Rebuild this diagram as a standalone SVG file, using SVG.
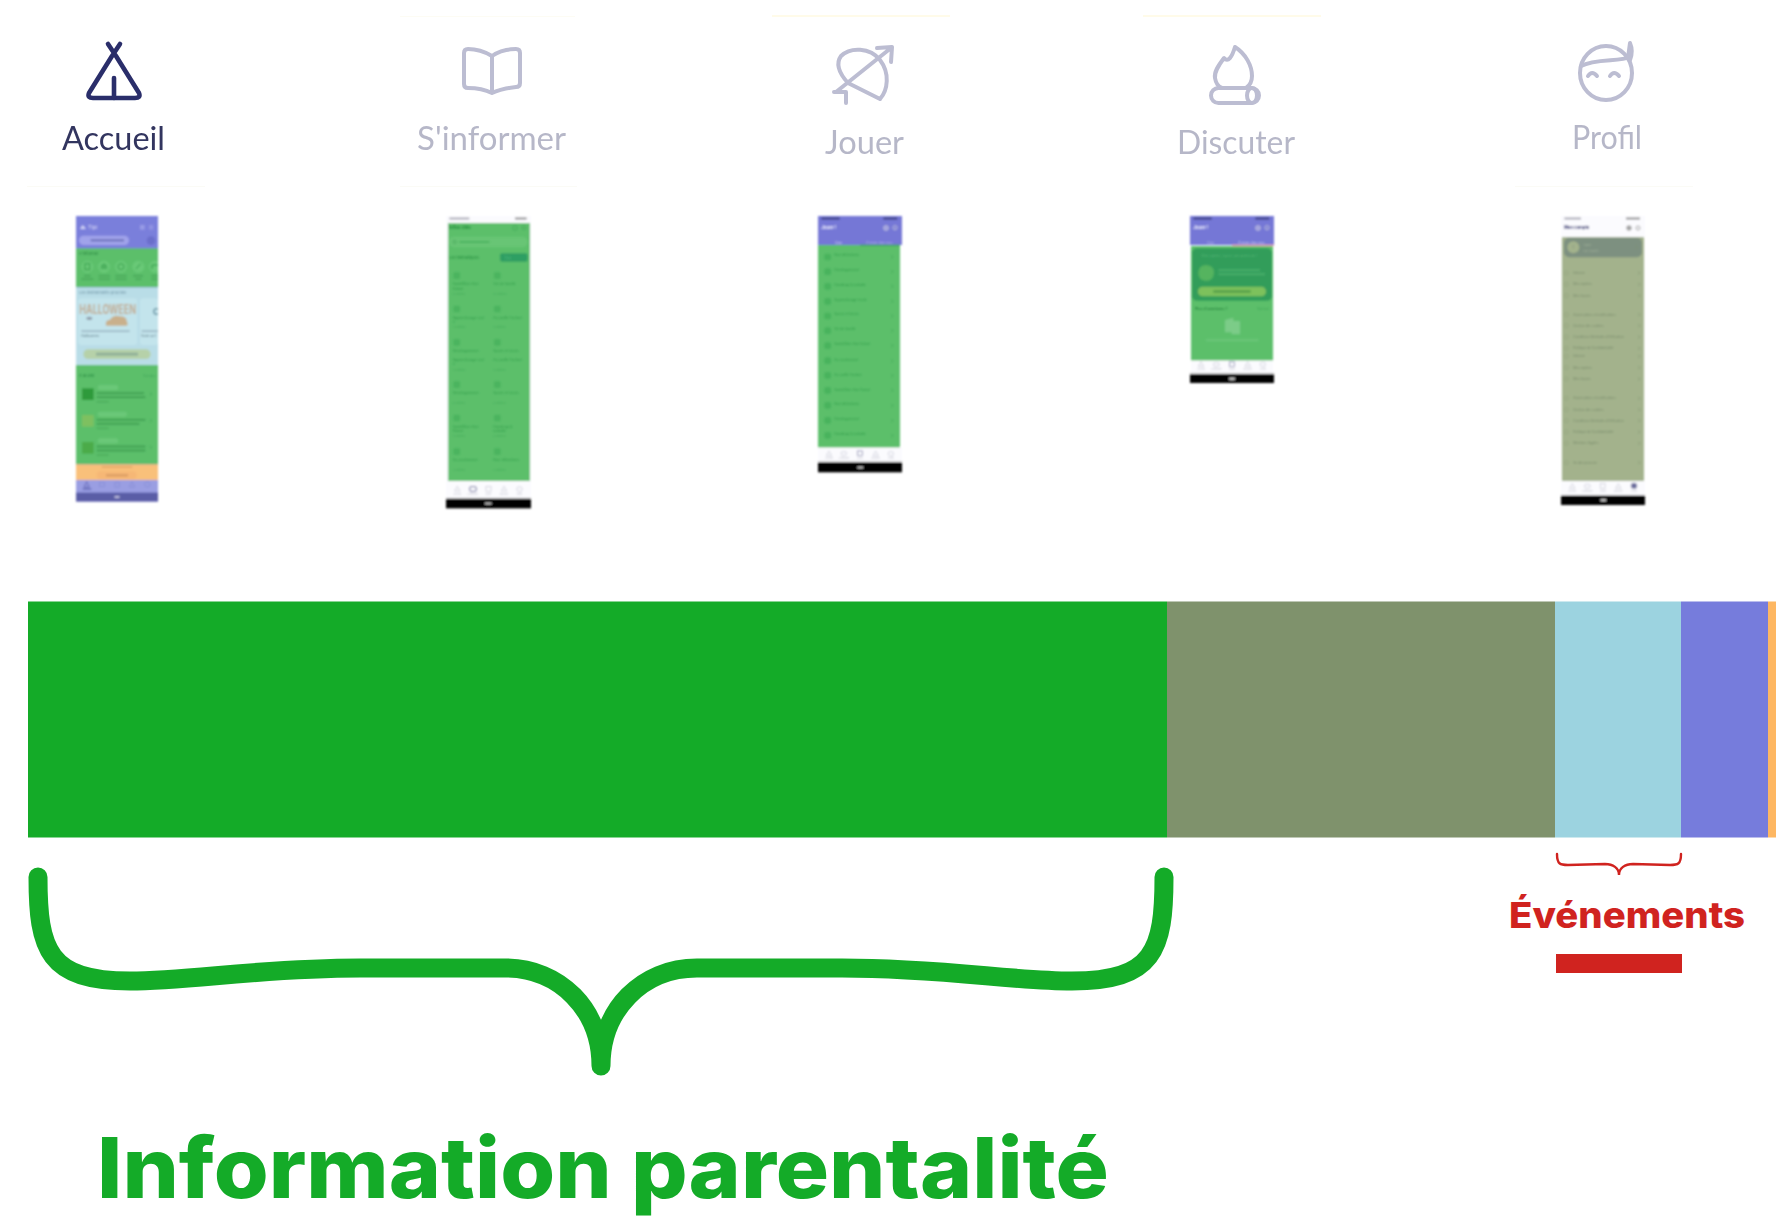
<svg xmlns="http://www.w3.org/2000/svg" xmlns:xlink="http://www.w3.org/1999/xlink" width="1776" height="1216" viewBox="0 0 1776 1216">
<defs>
<style>
text{font-family:"Inter","Liberation Sans",sans-serif}
.tab{font-family:"Lato","Liberation Sans",sans-serif;font-size:33px;font-weight:400}
.ic{fill:none;stroke:#bcbdd2;stroke-width:4;stroke-linecap:round;stroke-linejoin:round}
.lab{fill:#b6b7c8}
.t2{font-size:10.5px;fill:#2e9a48}
.s2{font-size:7px;fill:#45a858}
.t3{font-size:10px;fill:#2e9a48}
.t5{font-size:9.5px;fill:#76886a}
.nav{fill:none;stroke:#c4c5d2;stroke-width:2}
.navt{font-size:6.5px;fill:#b9bac8;text-anchor:middle}
.chev{fill:none;stroke:#3e9d50;stroke-width:2}
.chev5{fill:none;stroke:#7e8f70;stroke-width:2}
.bar{fill:#3d9c50}
</style>
<filter id="soft" x="-5%" y="-5%" width="110%" height="110%"><feGaussianBlur stdDeviation="2.800"/></filter>
<filter id="tabsoft" x="-10%" y="-10%" width="120%" height="120%"><feGaussianBlur stdDeviation=".55"/></filter>
<clipPath id="clip1"><rect x="48" y="33" width="246" height="857"/></clipPath>
<path id="chv" d="M0 -5 L5 0 L0 5"/>
</defs>
<rect width="1776" height="1216" fill="#ffffff"/>

<g id="faint-lines" fill="#fffbe9">
<rect x="772" y="15" width="178" height="2"/><rect x="1143" y="15" width="178" height="2"/>
<rect x="400" y="16" width="175" height="1" fill="#fdfcf4"/><rect x="27" y="186" width="178" height="1" fill="#fbfbf6"/><rect x="400" y="186" width="177" height="1" fill="#fbfbf6"/><rect x="1515" y="186" width="178" height="1" fill="#fbfbf6"/>
</g>

<g id="tab-accueil" filter="url(#tabsoft)">
<path d="M108 44 L116 56 L139 93 Q141 98 135 98 L93 98 Q87 98 89 93 L112 56 L120 44" fill="none" stroke="#2b2d6b" stroke-width="4.600" stroke-linecap="round" stroke-linejoin="round"/>
<path d="M114 78 V98" fill="none" stroke="#2b2d6b" stroke-width="4.600" stroke-linecap="round"/>
<text class="tab" x="62" y="150" fill="#33355f" textLength="103" lengthAdjust="spacingAndGlyphs">Accueil</text>
</g>
<g id="tab-sinformer" filter="url(#tabsoft)">
<path class="ic" d="M492 56 C482 50 474 49 468 49 Q464 49 464 53 V84 Q464 88 468 88 C476 88 484 89 492 93 C500 89 508 88 516 87 Q520 87 520 83 V53 Q520 49 516 49 C508 49 500 50 492 56 V93"/>
<text class="tab lab" x="417" y="150" textLength="149" lengthAdjust="spacingAndGlyphs">S'informer</text>
</g>
<g id="tab-jouer" filter="url(#tabsoft)">
<path class="ic" d="M841 56 C850 47 870 47 880 60 C890 73 888 90 880 99 M841 56 C836 63 838 72 848 83 L880 99 M836 92 L891 48 M877 48 L892 47 L891 62 M834 92 H846 V103"/>
<text class="tab lab" x="825" y="154" textLength="79" lengthAdjust="spacingAndGlyphs">Jouer</text>
</g>
<g id="tab-discuter" filter="url(#tabsoft)">
<path class="ic" d="M1235 47 C1232 57 1228 63 1224 58 C1218 66 1214 72 1215 78 C1216 84 1219 87 1222 88 M1235 47 C1246 54 1252 66 1252 76 C1252 82 1249 86 1246 88"/>
<rect class="ic" x="1211" y="88" width="48" height="15" rx="7.500"/><ellipse class="ic" cx="1252" cy="95.500" rx="5" ry="7.500"/>
<text class="tab lab" x="1177" y="154" textLength="118" lengthAdjust="spacingAndGlyphs">Discuter</text>
</g>
<g id="tab-profil" filter="url(#tabsoft)">
<ellipse class="ic" cx="1606" cy="73" rx="26" ry="27"/>
<path class="ic" d="M1581 66 C1595 58 1620 62 1630 57 M1628 58 L1630 43 C1633 50 1632 55 1630 60 M1588 76 Q1592 70 1597 76 M1610 76 Q1614 70 1619 76"/>
<text class="tab lab" x="1572" y="149" textLength="70" lengthAdjust="spacingAndGlyphs">Profil</text>
</g>

<g id="phone-accueil" transform="translate(60 205) scale(.33333)" filter="url(#soft)"><g clip-path="url(#clip1)">
<rect x="48" y="33" width="246" height="857" fill="#7a7fdb"/>
<rect x="48" y="130" width="246" height="117" fill="#5cbf6a"/>
<rect x="48" y="247" width="246" height="233" fill="#b9dde7"/>
<rect x="48" y="480" width="246" height="298" fill="#5cbf6a"/>
<rect x="48" y="778" width="246" height="47" fill="#f9c07a"/>
<rect x="48" y="825" width="246" height="38" fill="#9a9ee2"/>
<rect x="48" y="863" width="246" height="27" fill="#5a5da6"/>
<text x="85" y="72" font-size="15" fill="#dfe0fa">Tipi</text>
<path d="M60 72 L68 60 L78 72Z" fill="#cfd1f5"/>
<rect x="57" y="92" width="150" height="28" rx="14" fill="#a0a3ea"/><rect x="92" y="103" width="100" height="6" fill="#6b6eb8"/>
<circle cx="273" cy="107" r="13" fill="#6a6ecb"/><rect x="240" y="60" width="14" height="14" fill="#989be6"/><rect x="267" y="60" width="13" height="14" fill="#8f92e2"/>
<text x="57" y="151" font-size="12" fill="#237f3c">S'informer</text>
<g fill="#69c977"><circle cx="82" cy="185" r="18"/><circle cx="132" cy="185" r="18"/><circle cx="183" cy="185" r="18"/><circle cx="235" cy="185" r="18"/><circle cx="285" cy="185" r="18"/></g>
<g fill="none" stroke="#27933e" stroke-width="2.500"><rect x="75" y="176" width="14" height="18"/><path d="M122 190 H142 M124 184 Q132 170 140 184Z"/><circle cx="183" cy="185" r="9"/><path d="M228 192 L242 176"/><path d="M276 192 V180 H294"/></g>
<g class="bar" opacity=".6"><rect x="72" y="210" width="20" height="5"/><rect x="64" y="220" width="36" height="5"/><rect x="116" y="210" width="34" height="5"/><rect x="116" y="220" width="34" height="5"/><rect x="166" y="210" width="34" height="5"/><rect x="166" y="220" width="34" height="5"/><rect x="219" y="210" width="30" height="5"/><rect x="226" y="220" width="18" height="5"/><rect x="274" y="210" width="20" height="5"/><rect x="274" y="220" width="20" height="5"/></g>
<text x="57" y="266" font-size="12" fill="#6b8fa0">Les événements proches</text>
<rect x="54" y="280" width="178" height="140" rx="10" fill="#c3e4ec"/><rect x="240" y="280" width="54" height="140" rx="8" fill="#c3e4ec"/>
<text transform="translate(58 328) scale(1 1.650)" font-size="23" font-weight="700" fill="#c2ac92" textLength="170" lengthAdjust="spacingAndGlyphs">HALLOWEEN</text>
<path d="M138 362 Q134 345 150 344 Q160 328 180 334 Q200 334 200 348 Q206 358 200 362Z" fill="#c9b08c"/><ellipse cx="88" cy="340" rx="9" ry="5" fill="#8e9aa8"/>
<text x="278" y="330" font-size="28" font-weight="700" fill="#5d8c9c">C</text>
<rect x="64" y="376" width="145" height="5" fill="#9bb7c4"/><rect x="245" y="376" width="49" height="5" fill="#9bb7c4"/>
<text x="63" y="396" font-size="11" fill="#55707e">Halloween</text><text x="243" y="396" font-size="9" fill="#55707e">Sortie au C</text>
<rect x="70" y="433" width="202" height="29" rx="14" fill="#b6d1a9"/><rect x="108" y="443" width="126" height="9" fill="#90b099"/>
<text x="57" y="517" font-size="12" fill="#1d7f38">À la une</text><text x="250" y="517" font-size="9" fill="#3e9f55">Voir plus</text>
<g fill="#2d9a3a"><rect x="66" y="550" width="35" height="35"/><rect x="66" y="630" width="35" height="35" fill="#7ec060"/><rect x="66" y="711" width="35" height="35" fill="#4cab4a"/></g>
<g fill="#6bc878"><rect x="113" y="540" width="62" height="15" rx="7"/><rect x="113" y="620" width="88" height="15" rx="7"/><rect x="113" y="700" width="62" height="15" rx="7"/></g>
<g class="bar"><rect x="110" y="562" width="142" height="5"/><rect x="110" y="574" width="146" height="5"/><rect x="110" y="588" width="36" height="4" opacity=".6"/><rect x="110" y="642" width="146" height="5"/><rect x="110" y="654" width="128" height="5"/><rect x="110" y="668" width="36" height="4" opacity=".6"/><rect x="110" y="722" width="146" height="5"/><rect x="110" y="734" width="146" height="5"/><rect x="110" y="748" width="36" height="4" opacity=".6"/></g>
<g class="chev"><use xlink:href="#chv" x="270" y="567"/><use xlink:href="#chv" x="270" y="647"/><use xlink:href="#chv" x="270" y="727"/></g>
<rect x="125" y="784" width="92" height="4" fill="#dba263"/><rect x="110" y="799" width="120" height="23" rx="11" fill="#f6b776"/><rect x="138" y="808" width="66" height="6" fill="#d79a62"/>
<path d="M80 830 L88 846 H72Z" fill="none" stroke="#4a4d9f" stroke-width="2"/><rect x="68" y="850" width="26" height="4" fill="#5c5fb0"/>
<g fill="none" stroke="#8488d2" stroke-width="2"><rect x="118" y="832" width="16" height="12"/><rect x="165" y="832" width="14" height="14"/><path d="M208 846 L216 830 L224 846Z"/><circle cx="262" cy="838" r="8"/></g>
<rect x="163" y="874" width="16" height="4" rx="2" fill="#dcdcf0"/>
</g></g>

<g id="phone-sinformer" transform="translate(430 205) scale(.33333)" filter="url(#soft)">
<rect x="48" y="33" width="255" height="847" fill="#fbfbfe"/>
<rect x="54" y="54" width="246" height="774" fill="#5cbf6a"/>
<rect x="58" y="38" width="60" height="5" fill="#9a9aa8"/><rect x="255" y="38" width="35" height="5" fill="#777"/>
<text x="57" y="72" font-size="14" font-weight="700" fill="#1b8a36">Infos clés</text>
<circle cx="255" cy="69" r="7" fill="none" stroke="#3c9e52" stroke-width="2"/><circle cx="282" cy="68" r="6" fill="none" stroke="#3c9e52" stroke-width="2"/>
<rect x="57" y="95" width="236" height="32" rx="15" fill="#68c575"/><circle cx="74" cy="111" r="5" fill="none" stroke="#3c9e52" stroke-width="2"/><rect x="88" y="108" width="90" height="6" fill="#4cb45e"/>
<text x="57" y="162" font-size="11.500" fill="#1f8a3a">Les thématiques</text>
<rect x="210" y="145" width="83" height="25" rx="6" fill="#2f9f63"/><text x="224" y="161" font-size="9" fill="#57bf80">Tout</text>
<g fill="#4cb45e"><rect x="70" y="202" width="20" height="20" rx="4"/><rect x="192" y="202" width="20" height="20" rx="4"/><rect x="70" y="302" width="20" height="20" rx="4"/><rect x="192" y="302" width="20" height="20" rx="4"/><rect x="70" y="402" width="20" height="20" rx="4"/><rect x="192" y="402" width="20" height="20" rx="4"/><rect x="70" y="529" width="20" height="20" rx="4"/><rect x="192" y="529" width="20" height="20" rx="4"/><rect x="70" y="629" width="20" height="20" rx="4"/><rect x="192" y="629" width="20" height="20" rx="4"/><rect x="70" y="730" width="20" height="20" rx="4"/><rect x="192" y="730" width="20" height="20" rx="4"/></g>
<text class="t2" x="68" y="241">Santé/Bien-être</text><text class="t2" x="68" y="254">Enfant</text><text class="s2" x="68" y="270">8 contenus</text>
<text class="t2" x="190" y="241">Vie de famille</text><text class="s2" x="190" y="270">16 contenus</text>
<text class="t2" x="68" y="341">Apprentissage scol</text><text class="t2" x="68" y="354">e</text><text class="s2" x="68" y="370">11 contenus</text>
<text class="t2" x="190" y="341">Accueillir l'enfant</text><text class="s2" x="190" y="370">5 contenus</text>
<text class="t2" x="68" y="441">Développement</text><text class="t2" x="190" y="441">Sports et loisirs</text>
<text class="t2" x="68" y="468">Apprentissage scol</text><text class="t2" x="68" y="481">e</text><text class="s2" x="68" y="497">11 contenus</text>
<text class="t2" x="190" y="468">Accueillir l'enfant</text><text class="s2" x="190" y="497">5 contenus</text>
<text class="t2" x="68" y="568">Développement</text><text class="t2" x="190" y="568">Sports et loisirs</text><text class="s2" x="68" y="598">6 contenus</text><text class="s2" x="190" y="598">6 contenus</text>
<text class="t2" x="68" y="668">Santé/Bien-être</text><text class="t2" x="68" y="681">Parent</text><text class="s2" x="68" y="697">5 contenus</text>
<text class="t2" x="190" y="668">Handicap &amp;</text><text class="t2" x="190" y="681">maladie</text><text class="s2" x="190" y="697">6 contenus</text>
<text class="t2" x="68" y="769">Accouchement</text><text class="t2" x="190" y="769">Non-dit/enfants</text><text class="s2" x="68" y="798">3 contenus</text><text class="s2" x="190" y="798">3 contenus</text>
<g class="nav"><path d="M74 858 L82 844 L90 858Z"/><rect x="119" y="845" width="20" height="14" rx="4" stroke="#6b6d9c" stroke-width="3"/><rect x="168" y="845" width="15" height="14"/><path d="M214 858 L222 844 L230 858Z"/><rect x="261" y="846" width="15" height="13" rx="4"/></g>
<text class="navt" x="82" y="871">Accueil</text><text class="navt" x="128" y="871" fill="#6b6d9c">S'informer</text><text class="navt" x="175" y="871">Jouer</text><text class="navt" x="222" y="871">Discuter</text><text class="navt" x="268" y="871">Profil</text>
<rect x="48" y="879" width="255" height="3" fill="#888"/><rect x="48" y="882" width="255" height="28" fill="#000"/><rect x="165" y="893" width="20" height="5" rx="2" fill="#ddd"/>
</g>

<g id="phone-jouer" transform="translate(800 205) scale(.33333)" filter="url(#soft)">
<rect x="54" y="33" width="252" height="87" fill="#7477d6"/>
<rect x="54" y="120" width="246" height="608" fill="#5cbf6a"/>
<rect x="180" y="119" width="120" height="4" fill="#3aa65a"/>
<rect x="64" y="38" width="55" height="5" fill="#2f2f6a"/><rect x="250" y="38" width="42" height="5" fill="#2f2f6a"/>
<text x="64" y="71" font-size="13" font-weight="700" fill="#f2f2ff">Jouer !</text>
<circle cx="258" cy="69" r="7" fill="#9a9be0" stroke="#ddd" stroke-width="2"/><circle cx="285" cy="68" r="6" fill="none" stroke="#ddd" stroke-width="2"/>
<text x="106" y="116" font-size="9.500" fill="#d5d6f5">Quiz</text><text x="199" y="116" font-size="9" fill="#b9bbee">À tester chez vous</text>
<g fill="#48b35d"><rect x="73" y="146" width="20" height="20" rx="5"/><rect x="73" y="190" width="20" height="20" rx="5"/><rect x="73" y="234" width="20" height="20" rx="5"/><rect x="73" y="279" width="20" height="20" rx="5"/><rect x="73" y="323" width="20" height="20" rx="5"/><rect x="73" y="367" width="20" height="20" rx="5"/><rect x="73" y="412" width="20" height="20" rx="5"/><rect x="73" y="457" width="20" height="20" rx="5"/><rect x="73" y="501" width="20" height="20" rx="5"/><rect x="73" y="546" width="20" height="20" rx="5"/><rect x="73" y="591" width="20" height="20" rx="5"/><rect x="73" y="636" width="20" height="20" rx="5"/><rect x="73" y="681" width="20" height="20" rx="5"/></g>
<text class="t3" x="103" y="153">Non-dit/enfants</text><text class="t3" x="103" y="197">Développement</text><text class="t3" x="103" y="242">Handicap &amp; maladie</text><text class="t3" x="103" y="287">Apprentissage école</text><text class="t3" x="103" y="331">Sports et loisirs</text><text class="t3" x="103" y="376">Vie de famille</text><text class="t3" x="103" y="420">Santé/Bien-être Enfant</text><text class="t3" x="103" y="468">Accouchement</text><text class="t3" x="103" y="512">Accueillir l'enfant</text><text class="t3" x="103" y="557">Santé/Bien-être Parent</text><text class="t3" x="103" y="601">Non-dit/enfants</text><text class="t3" x="103" y="646">Développement</text><text class="t3" x="103" y="691">Handicap &amp; maladie</text>
<g class="chev"><use xlink:href="#chv" x="274" y="156"/><use xlink:href="#chv" x="274" y="200"/><use xlink:href="#chv" x="274" y="244"/><use xlink:href="#chv" x="274" y="289"/><use xlink:href="#chv" x="274" y="333"/><use xlink:href="#chv" x="274" y="377"/><use xlink:href="#chv" x="274" y="422"/><use xlink:href="#chv" x="274" y="468"/><use xlink:href="#chv" x="274" y="512"/><use xlink:href="#chv" x="274" y="556"/><use xlink:href="#chv" x="274" y="602"/><use xlink:href="#chv" x="274" y="647"/><use xlink:href="#chv" x="274" y="692"/></g>
<rect x="54" y="728" width="252" height="42" fill="#fbfbfe"/>
<g class="nav"><path d="M79 752 L87 738 L95 752Z"/><rect x="124" y="740" width="15" height="11" rx="3"/><rect x="173" y="738" width="14" height="14" stroke="#6b6d9c"/><path d="M219 752 L227 738 L235 752Z"/><rect x="265" y="740" width="15" height="12" rx="4"/></g>
<text class="navt" x="87" y="763">Accueil</text><text class="navt" x="132" y="763">S'informer</text><text class="navt" x="180" y="763" fill="#6b6d9c">Jouer</text><text class="navt" x="227" y="763">Discuter</text><text class="navt" x="273" y="763">Profil</text>
<rect x="54" y="770" width="252" height="2" fill="#888"/><rect x="54" y="772" width="252" height="30" fill="#000"/><rect x="172" y="785" width="18" height="5" rx="2" fill="#ddd"/>
</g>

<g id="phone-discuter" transform="translate(1170 205) scale(.33333)" filter="url(#soft)">
<rect x="60" y="33" width="252" height="87" fill="#7477d6"/>
<rect x="186" y="119" width="126" height="4" fill="#f0a3b5"/>
<rect x="63" y="123" width="246" height="344" fill="#5cbf6a"/>
<rect x="70" y="38" width="55" height="5" fill="#2f2f6a"/><rect x="256" y="38" width="42" height="5" fill="#2f2f6a"/>
<text x="70" y="71" font-size="13" font-weight="700" fill="#f2f2ff">Jouer !</text>
<circle cx="264" cy="69" r="7" fill="#9a9be0" stroke="#ddd" stroke-width="2"/><circle cx="291" cy="68" r="6" fill="none" stroke="#ddd" stroke-width="2"/>
<text x="112" y="116" font-size="9.500" fill="#b9bbee">Quiz</text><text x="205" y="116" font-size="9" fill="#d5d6f5">À tester chez vous</text>
<rect x="66" y="130" width="240" height="157" rx="14" fill="#309d5a"/>
<text x="95" y="155" font-size="11" fill="#57b878">Être parent, toute une aventure !</text>
<path d="M85 205 Q85 180 110 180 Q135 184 132 205 Q130 228 108 228 Q85 226 85 205Z" fill="#54b45f"/>
<rect x="145" y="193" width="125" height="5" fill="#4cb06d"/><rect x="145" y="205" width="140" height="5" fill="#4cb06d"/>
<rect x="84" y="245" width="204" height="29" rx="14" fill="#7dc15c"/><rect x="130" y="256" width="112" height="7" fill="#529c48"/>
<text x="75" y="315" font-size="11" font-weight="600" fill="#1f7f38">Plus d'aventures ?</text><text x="262" y="315" font-size="8.500" fill="#3e9f55">Voir tout</text>
<path d="M165 345 L190 338 V382 H165Z M185 348 H210 V388 H185Z" fill="#7ccc88"/>
<rect x="108" y="403" width="158" height="5" fill="#6dc77c"/>
<rect x="63" y="467" width="246" height="38" fill="#fbfbfe"/>
<g class="nav"><path d="M85 484 L93 470 L101 484Z"/><rect x="131" y="473" width="16" height="11" rx="3"/><rect x="179" y="471" width="14" height="14" stroke="#6b6d9c"/><path d="M225 484 L233 470 L241 484Z"/><rect x="271" y="472" width="15" height="12" rx="4"/></g>
<text class="navt" x="93" y="496">Accueil</text><text class="navt" x="139" y="496">S'informer</text><text class="navt" x="186" y="496" fill="#6b6d9c">Jouer</text><text class="navt" x="233" y="496">Discuter</text><text class="navt" x="279" y="496">Profil</text>
<rect x="60" y="505" width="252" height="3" fill="#888"/><rect x="60" y="508" width="252" height="26" fill="#000"/><rect x="177" y="519" width="18" height="5" rx="2" fill="#ddd"/>
</g>

<g id="phone-profil" transform="translate(1540 205) scale(.33333)" filter="url(#soft)">
<rect x="63" y="33" width="252" height="63" fill="#fbfbfe"/>
<rect x="66" y="96" width="246" height="732" fill="#a3b28c"/>
<rect x="73" y="38" width="50" height="5" fill="#9a9aa8"/><rect x="258" y="38" width="42" height="5" fill="#777"/>
<text x="72" y="72" font-size="12.500" font-weight="700" fill="#2c2e6a">Mon compte</text>
<circle cx="267" cy="69" r="7" fill="#aaa" stroke="#888" stroke-width="2"/><circle cx="294" cy="69" r="6" fill="none" stroke="#777" stroke-width="2"/>
<rect x="72" y="98" width="234" height="59" rx="15" fill="#7d9080"/>
<circle cx="100" cy="127" r="18" fill="#a3b28c"/><text x="95" y="132" font-size="13" fill="#7d9080">T</text>
<text x="130" y="122" font-size="8" fill="#a7b59c">Tipiez</text><text x="130" y="140" font-size="8" fill="#a7b59c">Voir le profil</text>
<g fill="none" stroke="#91a27d" stroke-width="2"><circle cx="79" cy="204" r="6"/><circle cx="79" cy="238" r="6"/><circle cx="79" cy="272" r="6"/><circle cx="79" cy="329" r="6"/><circle cx="79" cy="362" r="6"/><circle cx="79" cy="396" r="6"/><circle cx="79" cy="430" r="6"/><circle cx="79" cy="454" r="6"/><circle cx="79" cy="488" r="6"/><circle cx="79" cy="522" r="6"/><circle cx="79" cy="580" r="6"/><circle cx="79" cy="614" r="6"/><circle cx="79" cy="647" r="6"/><circle cx="79" cy="681" r="6"/><circle cx="79" cy="715" r="6"/><circle cx="79" cy="773" r="6"/></g>
<text class="t5" x="100" y="207">Informe</text><text class="t5" x="100" y="241">Mes repères</text><text class="t5" x="100" y="275">Mes favoris</text><text class="t5" x="100" y="332">Autorisations et notifications</text><text class="t5" x="100" y="365">Gestion des cookies</text><text class="t5" x="100" y="399">Conditions Générales d'Utilisation</text><text class="t5" x="100" y="433">Politique de Confidentialité</text><text class="t5" x="100" y="457">Informe</text><text class="t5" x="100" y="491">Mes repères</text><text class="t5" x="100" y="525">Mes favoris</text><text class="t5" x="100" y="583">Autorisations et notifications</text><text class="t5" x="100" y="617">Gestion des cookies</text><text class="t5" x="100" y="650">Conditions Générales d'Utilisation</text><text class="t5" x="100" y="684">Politique de Confidentialité</text><text class="t5" x="100" y="718">Mentions légales</text><text class="t5" x="100" y="776">Se déconnecter</text>
<g class="chev5"><use xlink:href="#chv" x="295" y="204"/><use xlink:href="#chv" x="295" y="238"/><use xlink:href="#chv" x="295" y="272"/><use xlink:href="#chv" x="295" y="329"/><use xlink:href="#chv" x="295" y="362"/><use xlink:href="#chv" x="295" y="396"/><use xlink:href="#chv" x="295" y="430"/><use xlink:href="#chv" x="295" y="454"/><use xlink:href="#chv" x="295" y="488"/><use xlink:href="#chv" x="295" y="522"/><use xlink:href="#chv" x="295" y="580"/><use xlink:href="#chv" x="295" y="614"/><use xlink:href="#chv" x="295" y="647"/><use xlink:href="#chv" x="295" y="681"/><use xlink:href="#chv" x="295" y="715"/><use xlink:href="#chv" x="295" y="773"/><use xlink:href="#chv" x="287" y="127"/></g>
<rect x="63" y="828" width="252" height="42" fill="#fbfbfe"/>
<g class="nav"><path d="M89 850 L97 836 L105 850Z"/><rect x="134" y="838" width="16" height="11" rx="3"/><rect x="181" y="836" width="14" height="14"/><path d="M227 850 L235 836 L243 850Z"/><rect x="274" y="835" width="16" height="15" rx="5" fill="#6b6d9c" stroke="#6b6d9c"/></g>
<text class="navt" x="96" y="862">Accueil</text><text class="navt" x="142" y="862">S'informer</text><text class="navt" x="189" y="862">Jouer</text><text class="navt" x="235" y="862">Discuter</text><text class="navt" x="282" y="862" fill="#6b6d9c">Profil</text>
<rect x="63" y="870" width="252" height="2" fill="#888"/><rect x="63" y="872" width="252" height="28" fill="#000"/><rect x="181" y="883" width="18" height="5" rx="2" fill="#ddd"/>
</g>

<g id="stacked-bar">
<rect x="28" y="601.500" width="1139" height="236" fill="#14ab28"/>
<rect x="1167" y="601.500" width="388" height="236" fill="#7f926c"/>
<rect x="1555" y="601.500" width="126" height="236" fill="#9cd3e0"/>
<rect x="1681" y="601.500" width="87" height="236" fill="#767cdc"/>
<rect x="1768" y="601.500" width="8" height="236" fill="#feb762"/>
</g>

<g id="connectors" fill="none" stroke-linecap="round">
<path d="M38 877 C38 950 48 981 130 981 C190 981 260 968 360 968 L505 968 C560 968 601 1010 601 1066 C601 1010 642 968 697 968 L842 968 C942 968 1012 981 1072 981 C1154 981 1164 950 1164 877" stroke="#14ab28" stroke-width="19" stroke-linejoin="round"/>
<path d="M1557 854 C1557 864 1560 865 1568 865 L1605 864 C1613 864 1619 868 1619 875 C1619 868 1625 864 1633 864 L1670 865 C1678 865 1681 864 1681 854" stroke="#d0231f" stroke-width="2.400"/>
</g>

<g id="label-evenements">
<text x="1509" y="928" font-size="36" font-weight="800" fill="#d0231f" textLength="236" lengthAdjust="spacingAndGlyphs">Événements</text>
<rect x="1556" y="954" width="126" height="19" fill="#d0231f"/>
</g>
<g id="label-information">
<text x="97" y="1198" font-size="84" font-weight="800" fill="#14ab28" textLength="1012" lengthAdjust="spacingAndGlyphs">Information parentalité</text>
</g>
</svg>
